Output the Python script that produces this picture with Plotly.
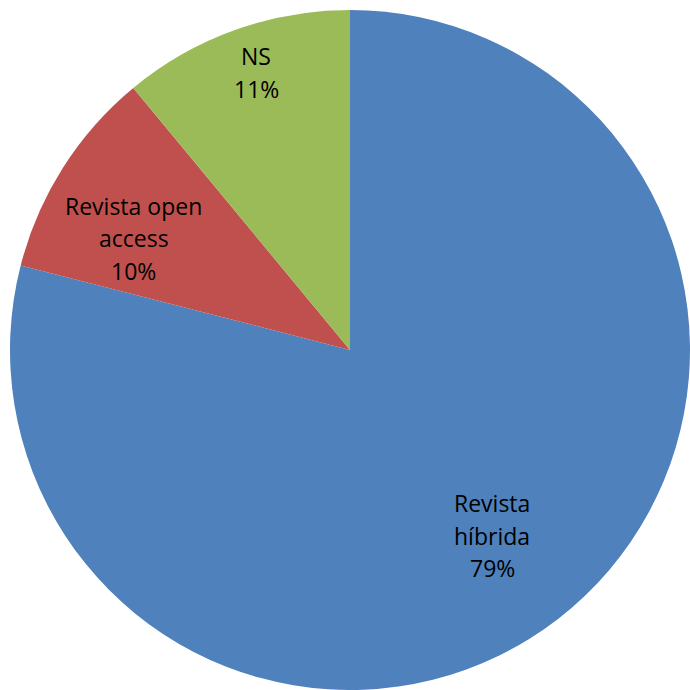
import math
import plotly.graph_objects as go

label_lines = [["Revista", "híbrida"], ["Revista open", "access"], ["NS"]]
labels = [" ".join(l) for l in label_lines]
values = [79, 10, 11]
colors = ["#4F81BD", "#C0504D", "#9BBB59"]

# label placement style (fraction of radius, angular nudge in degrees)
label_radius = [0.688, 0.716, 0.862]
label_nudge = [0.4, -5.1, 1.1]
line_px = 32.5
plot_px = 680

fig = go.Figure(go.Pie(
    labels=labels,
    values=values,
    sort=False,
    direction="clockwise",
    rotation=0,
    marker=dict(colors=colors, line=dict(width=0)),
    textinfo="none",
    showlegend=False,
    hoverinfo="label+percent",
    domain=dict(x=[0, 1], y=[0, 1]),
))

total = sum(values)
cum = 0
annotations = []
for lines, v, rf, nd in zip(label_lines, values, label_radius, label_nudge):
    mid = (cum + v / 2) / total * 360 + nd
    cum += v
    th = math.radians(mid)
    cx = 0.5 + rf * 0.5 * math.sin(th)
    cy = 0.5 + rf * 0.5 * math.cos(th)
    pct = round(v / total * 100)
    all_lines = lines + [f"{pct}%"]
    n = len(all_lines)
    for i, t in enumerate(all_lines):
        y = cy - (i - (n - 1) / 2) * line_px / plot_px
        annotations.append(dict(
            x=cx, y=y, xref="paper", yref="paper",
            text=t, showarrow=False,
            xanchor="center", yanchor="middle", align="center",
            font=dict(family="Open Sans, Liberation Sans, sans-serif", size=23, color="black"),
        ))

fig.update_layout(
    width=690, height=690,
    margin=dict(l=10, r=0, t=10, b=0),
    paper_bgcolor="white",
    plot_bgcolor="white",
    annotations=annotations,
)
fig.write_html(
    "out.html",
    config={"displayModeBar": False},
    post_script="document.body.style.margin='0';document.body.style.overflow='hidden';",
)
